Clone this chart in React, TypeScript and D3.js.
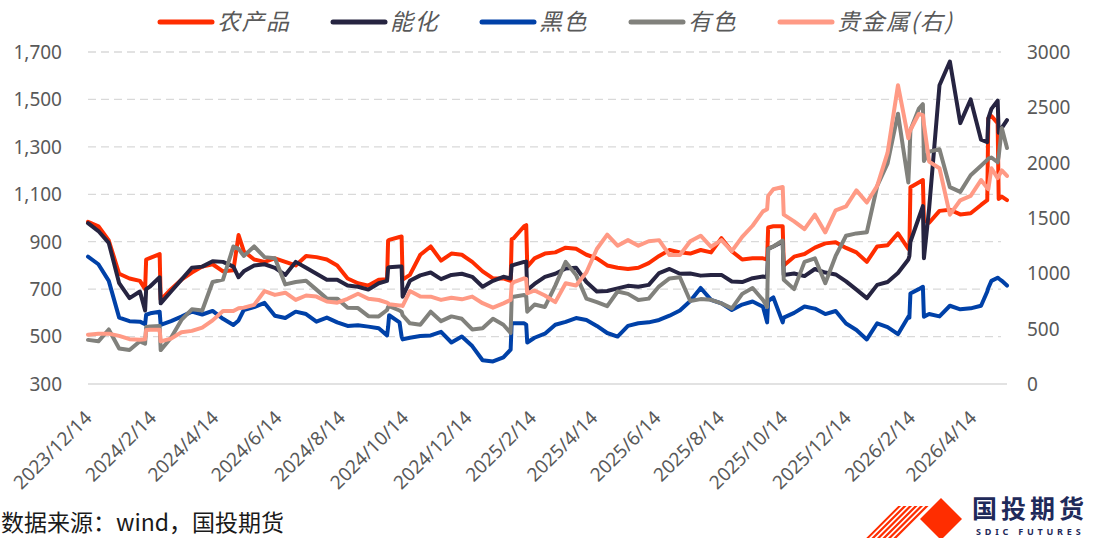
import * as d3 from 'd3';

// 日期（不等间隔，含换月跳变点）
const dates = [
  '2023-12-14', '2023-12-24', '2024-01-03', '2024-01-13', '2024-01-23', '2024-02-02', '2024-02-07', '2024-02-08', '2024-02-12', '2024-02-21',
  '2024-02-22', '2024-03-03', '2024-03-13', '2024-03-23', '2024-04-02', '2024-04-12', '2024-04-22', '2024-05-02', '2024-05-07', '2024-05-12',
  '2024-05-22', '2024-06-01', '2024-06-11', '2024-06-21', '2024-07-01', '2024-07-11', '2024-07-21', '2024-07-31', '2024-08-10', '2024-08-20',
  '2024-08-30', '2024-09-09', '2024-09-19', '2024-09-27', '2024-09-28', '2024-09-29', '2024-10-09', '2024-10-11', '2024-10-12', '2024-10-19',
  '2024-10-29', '2024-11-08', '2024-11-18', '2024-11-28', '2024-12-08', '2024-12-18', '2024-12-28', '2025-01-07', '2025-01-17', '2025-01-24',
  '2025-01-25', '2025-01-27', '2025-02-06', '2025-02-08', '2025-02-09', '2025-02-16', '2025-02-26', '2025-03-08', '2025-03-18', '2025-03-28',
  '2025-04-07', '2025-04-17', '2025-04-27', '2025-05-07', '2025-05-17', '2025-05-27', '2025-06-06', '2025-06-16', '2025-06-26', '2025-07-06',
  '2025-07-16', '2025-07-26', '2025-08-05', '2025-08-15', '2025-08-25', '2025-09-04', '2025-09-14', '2025-09-24', '2025-09-28', '2025-09-29',
  '2025-10-04', '2025-10-13', '2025-10-14', '2025-10-24', '2025-11-03', '2025-11-13', '2025-11-23', '2025-12-03', '2025-12-13', '2025-12-23',
  '2026-01-02', '2026-01-12', '2026-01-22', '2026-02-01', '2026-02-11', '2026-02-12', '2026-02-13', '2026-02-21', '2026-02-25', '2026-02-26',
  '2026-03-03', '2026-03-13', '2026-03-23', '2026-04-02', '2026-04-12', '2026-04-22', '2026-04-28', '2026-04-29', '2026-05-02', '2026-05-08',
  '2026-05-09', '2026-05-12', '2026-05-17',
];

// 农产品
const agri = [
  984, 965, 905, 765, 745, 735, 700, 825, 832, 848,
  655, 700, 740, 770, 795, 805, 775, 780, 928, 860,
  825, 815, 830, 815, 800, 840, 835, 825, 800, 745,
  725, 715, 740, 742, 905, 908, 920, 922, 740, 760,
  845, 880, 820, 850, 845, 815, 775, 745, 745, 735,
  910, 915, 965, 970, 795, 830, 850, 855, 875, 870,
  845, 830, 800, 790, 785, 790, 810, 840, 865, 855,
  850, 865, 855, 915, 860, 825, 830, 830, 825, 960,
  965, 965, 800, 837, 848, 875, 893, 898, 874, 855,
  815, 880, 885, 935, 870, 872, 1130, 1150, 1160, 990,
  980, 1030, 1035, 1015, 1020, 1055, 1075, 1420, 1430, 1400,
  1080, 1090, 1075,
];

// 能化
const energy = [
  978, 945, 895, 725, 662, 690, 610, 700, 712, 750,
  640, 690, 740, 790, 795, 818, 815, 795, 750, 775,
  800, 805, 790, 760, 815, 790, 765, 740, 740, 715,
  710, 698, 725, 735, 790, 792, 795, 795, 668, 735,
  758, 770, 742, 760, 765, 752, 710, 735, 752, 745,
  800, 802, 815, 816, 696, 722, 752, 765, 787, 790,
  730, 690, 692, 703, 714, 710, 718, 768, 785, 765,
  766, 757, 760, 760, 732, 730, 746, 753, 750, 870,
  880, 900, 760, 766, 755, 785, 770, 762, 733, 698,
  662, 718, 730, 768, 825, 840, 900, 1000, 1050, 830,
  1040, 1560, 1660, 1400, 1500, 1330, 1320, 1420, 1460, 1495,
  1360, 1380, 1413,
];

// 黑色
const ferrous = [
  837, 805, 735, 580, 565, 563, 552, 592, 598, 605,
  549, 565, 584, 605, 593, 608, 575, 549, 568, 612,
  624, 642, 588, 578, 605, 595, 563, 580, 560, 545,
  548, 542, 535, 505, 540, 590, 560, 500, 488, 495,
  502, 505, 520, 475, 500, 460, 400, 395, 412, 445,
  556, 556, 556, 550, 475, 495, 512, 550, 562, 578,
  570, 545, 515, 500, 545, 556, 560, 570, 588, 610,
  650, 705, 655, 640, 612, 635, 648, 626, 560, 650,
  665, 560, 580, 600, 627, 618, 595, 608, 555, 528,
  488, 556, 540, 510, 584, 580, 682, 700, 710, 584,
  595, 585, 630, 615, 619, 630, 690, 705, 735, 748,
  745, 735, 715,
];

// 有色
const nonferrous = [
  486, 480, 530, 450, 443, 480, 470, 540, 543, 545,
  443, 495, 570, 615, 610, 730, 740, 880, 870, 840,
  880, 835, 830, 720, 730, 735, 698, 660, 660, 622,
  620, 586, 585, 612, 625, 628, 610, 605, 590, 556,
  550, 605, 565, 585, 575, 530, 535, 575, 550, 515,
  665, 668, 675, 670, 605, 635, 625, 715, 815, 760,
  660, 645, 628, 690, 680, 654, 660, 712, 745, 750,
  650, 658, 655, 640, 619, 680, 705, 654, 625, 870,
  880, 905, 740, 700, 815, 830, 725, 840, 925, 935,
  940, 1135, 1230, 1440, 1150, 1250, 1371, 1460, 1480, 1240,
  1280, 1290, 1130, 1110, 1180, 1220, 1245, 1250, 1255, 1235,
  1260, 1380, 1295,
];

// 贵金属（右轴）
const precious = [
  445, 455, 455, 435, 405, 400, 405, 488, 490, 490,
  385, 410, 468, 480, 510, 575, 660, 660, 684, 690,
  715, 840, 805, 825, 760, 800, 790, 745, 735, 770,
  815, 770, 759, 735, 730, 720, 710, 710, 705, 840,
  790, 789, 760, 780, 765, 790, 730, 690, 729, 760,
  900, 920, 955, 950, 819, 845, 800, 740, 910, 890,
  1010, 1220, 1350, 1250, 1300, 1250, 1290, 1300, 1165, 1165,
  1290, 1340, 1240, 1300, 1200, 1330, 1430, 1560, 1580, 1700,
  1760, 1780, 1530, 1470, 1400, 1530, 1370, 1570, 1605, 1750,
  1640, 1790, 2090, 2700, 2220, 2270, 2295, 2440, 2430, 2350,
  2010, 1950, 1530, 1660, 1700, 1843, 1770, 1760, 1950, 1860,
  1880, 1930, 1880,
];

const leftTicks = [300, 500, 700, 900, 1100, 1300, 1500, 1700];
const rightTicks = [0, 500, 1000, 1500, 2000, 2500, 3000];
const xTickLabels = [
  '2023/12/14', '2024/2/14', '2024/4/14', '2024/6/14', '2024/8/14', '2024/10/14', '2024/12/14',
  '2025/2/14', '2025/4/14', '2025/6/14', '2025/8/14', '2025/10/14', '2025/12/14', '2026/2/14', '2026/4/14',
];

const NUM_FONT = "'Noto Sans', sans-serif";
const CJK_FONT = "'Noto Sans CJK SC', sans-serif";
const TEXT_GRAY = '#595959';

export default function App() {
  const width = 1106;
  const height = 538;
  const plot = { left: 88, right: 1007, top: 52, bottom: 384 };

  const parse = d3.timeParse('%Y-%m-%d');
  const parseTick = d3.timeParse('%Y/%m/%d');
  const xs = dates.map((d) => parse(d)!);

  const x = d3.scaleTime().domain([xs[0], xs[xs.length - 1]]).range([plot.left, plot.right]);
  const yL = d3.scaleLinear().domain([300, 1700]).range([plot.bottom, plot.top]);
  const yR = d3.scaleLinear().domain([0, 3000]).range([plot.bottom, plot.top]);

  const series = [
    { name: '农产品', values: agri, color: '#FF2D00', y: yL },
    { name: '能化', values: energy, color: '#262441', y: yL },
    { name: '黑色', values: ferrous, color: '#0041A8', y: yL },
    { name: '有色', values: nonferrous, color: '#81817C', y: yL },
    { name: '贵金属(右)', values: precious, color: '#FF9A85', y: yR },
  ];

  // legend positions follow the text length
  let lx = 160;
  const legend = series.map((s) => {
    const item = { ...s, x: lx };
    const chars = s.name.replace(/[()]/g, '').length + (s.name.includes('(') ? 0.8 : 0);
    lx += 57 + chars * 24 + 44;
    return item;
  });

  return (
    <svg
      width={width}
      height={height}
      style={{ position: 'absolute', left: 0, top: 0, background: '#fff' }}
    >
      {/* grid */}
      {leftTicks.slice(1).map((t) => (
        <line
          key={t}
          x1={plot.left}
          x2={plot.right - 6}
          y1={yL(t)}
          y2={yL(t)}
          stroke="#D9D9D9"
          strokeWidth={1.3}
          strokeDasharray="8 5"
        />
      ))}
      <line x1={plot.left} x2={plot.right} y1={plot.bottom} y2={plot.bottom} stroke="#D9D9D9" strokeWidth={1.5} />

      {/* left axis */}
      {leftTicks.map((t) => (
        <text
          key={t}
          x={62}
          y={yL(t)}
          dy="0.36em"
          textAnchor="end"
          fontFamily={NUM_FONT}
          fontSize={19}
          fill={TEXT_GRAY}
        >
          {d3.format(',')(t)}
        </text>
      ))}

      {/* right axis */}
      {rightTicks.map((t) => (
        <text
          key={t}
          x={1027}
          y={yR(t)}
          dy="0.36em"
          fontFamily={NUM_FONT}
          fontSize={19}
          fill={TEXT_GRAY}
        >
          {t}
        </text>
      ))}

      {/* x axis labels */}
      {xTickLabels.map((l) => {
        const px = x(parseTick(l)!);
        return (
          <text
            key={l}
            transform={`translate(${px + 5},${plot.bottom + 35}) rotate(-45)`}
            textAnchor="end"
            fontFamily={NUM_FONT}
            fontSize={19}
            fill={TEXT_GRAY}
          >
            {l}
          </text>
        );
      })}

      {/* lines */}
      {series.map((s) => {
        const line = d3
          .line<number>()
          .x((_, i) => x(xs[i]))
          .y((v) => s.y(v));
        return (
          <path
            key={s.name}
            d={line(s.values) ?? ''}
            fill="none"
            stroke={s.color}
            strokeWidth={4}
            strokeLinejoin="round"
            strokeLinecap="round"
          />
        );
      })}

      {/* legend */}
      {legend.map((s) => (
        <g key={s.name}>
          <line
            x1={s.x}
            x2={s.x + 52}
            y1={22}
            y2={22}
            stroke={s.color}
            strokeWidth={5}
            strokeLinecap="round"
          />
          <text
            x={s.x + 57}
            y={22}
            dy="0.36em"
            fontFamily={CJK_FONT}
            fontStyle="italic"
            fontSize={23}
            letterSpacing={1.5}
            fill={TEXT_GRAY}
          >
            {s.name}
          </text>
        </g>
      ))}

      {/* source */}
      <text x={1} y={531} fontFamily={CJK_FONT} fontSize={23} fill="#1a1a1a">
        数据来源：wind，国投期货
      </text>

      {/* logo */}
      <defs>
        <clipPath id="stripes">
          <polygon points="866,538 898,506 930,506 898,538" />
        </clipPath>
      </defs>
      <g clipPath="url(#stripes)">
        {d3.range(0, 13).map((k) => (
          <line
            key={k}
            x1={858 + k * 5.5}
            y1={542}
            x2={896 + k * 5.5}
            y2={504}
            stroke="#FF2D00"
            strokeWidth={2.2}
          />
        ))}
      </g>
      <polygon points="941,498 962,519 941,540 920,519" fill="#FF2D00" />
      <text x={972} y={518} fontFamily={CJK_FONT} fontWeight={700} fontSize={25} fill="#1F2A5A" letterSpacing={4}>
        国投期货
      </text>
      <text x={976} y={535} fontFamily={NUM_FONT} fontWeight={700} fontSize={9} fill="#1F2A5A" letterSpacing={3.8}>
        SDIC FUTURES
      </text>
    </svg>
  );
}
